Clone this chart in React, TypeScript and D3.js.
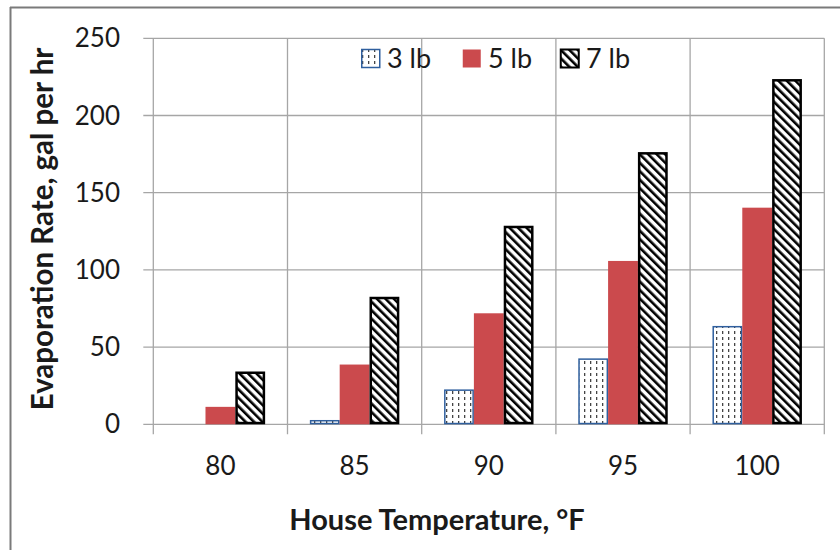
import { useEffect, useRef } from "react";
import * as d3 from "d3";

const temperatures = ["80", "85", "90", "95", "100"];
const seriesNames = ["3 lb", "5 lb", "7 lb"];
const rate3lb = [0, 2.8, 22.6, 42.7, 63.7];
const rate5lb = [11.3, 38.7, 71.9, 105.8, 140.3];
const rate7lb = [34.2, 82.6, 128.6, 176.3, 223.6];
const yTicks = [0, 50, 100, 150, 200, 250];

const W = 840;
const H = 550;
const margin = { left: 153.3, right: 824.3, top: 38.3, bottom: 424.3 };
const FONT = "Lato, 'Open Sans', sans-serif";

const App = () => {
  const svgRef = useRef<SVGSVGElement>(null);

  useEffect(() => {
    const svg = d3.select(svgRef.current);
    svg.selectAll("*").remove();

    const values = [rate3lb, rate5lb, rate7lb];
    const x0 = d3.scaleBand().domain(temperatures).range([margin.left, margin.right]).paddingInner(0).paddingOuter(0);
    const x1 = d3.scaleBand().domain(seriesNames).range([0, x0.bandwidth()]).paddingInner(0).paddingOuter(0.75);
    const y = d3.scaleLinear().domain([0, 250]).range([margin.bottom, margin.top]);

    // patterns
    const defs = svg.append("defs");
    const dots = defs.append("pattern").attr("id", "dots").attr("patternUnits", "userSpaceOnUse")
      .attr("width", 6).attr("height", 6);
    dots.append("rect").attr("width", 6).attr("height", 6).attr("fill", "#fff");
    dots.append("rect").attr("x", 2).attr("y", 1).attr("width", 1.3).attr("height", 3).attr("fill", "#444");

    const hatch = defs.append("pattern").attr("id", "hatch").attr("patternUnits", "userSpaceOnUse")
      .attr("width", 6).attr("height", 6).attr("patternTransform", "rotate(-45)");
    hatch.append("rect").attr("width", 6).attr("height", 6).attr("fill", "#fff");
    hatch.append("rect").attr("x", 0).attr("y", 0).attr("width", 2.6).attr("height", 6).attr("fill", "#000");

    const fills = ["url(#dots)", "#cb4a4d", "url(#hatch)"];
    const strokes = ["#2f5f9e", "none", "#000"];
    const strokeW = [1.5, 0, 2.5];

    // frame (top and left only visible)
    svg.append("line").attr("x1", 10).attr("x2", W).attr("y1", 7.5).attr("y2", 7.5).attr("stroke", "#7a7a7a").attr("stroke-width", 2);
    svg.append("line").attr("x1", 10.5).attr("x2", 10.5).attr("y1", 7).attr("y2", H).attr("stroke", "#7a7a7a").attr("stroke-width", 2);

    // gridlines
    const grid = svg.append("g").attr("stroke", "#a6a6a6").attr("stroke-width", 1.3);
    yTicks.forEach((t) => {
      grid.append("line").attr("x1", margin.left - 10).attr("x2", margin.right).attr("y1", y(t)).attr("y2", y(t));
    });
    const bounds = temperatures.map((t) => x0(t) as number).concat([margin.right]);
    bounds.forEach((bx) => {
      grid.append("line").attr("x1", bx).attr("x2", bx).attr("y1", margin.top).attr("y2", margin.bottom + 10);
    });

    // bars
    seriesNames.forEach((s, si) => {
      svg.append("g").selectAll("rect")
        .data(values[si].map((v, i) => ({ v, cat: temperatures[i] })).filter((d) => d.v > 0))
        .join("rect")
        .attr("x", (d) => (x0(d.cat) as number) + (x1(s) as number) + strokeW[si] / 2)
        .attr("y", (d) => y(d.v) + strokeW[si] / 2)
        .attr("width", x1.bandwidth() - strokeW[si])
        .attr("height", (d) => Math.max(0, y(0) - y(d.v) - strokeW[si]))
        .attr("fill", fills[si])
        .attr("stroke", strokes[si])
        .attr("stroke-width", strokeW[si]);
    });

    // tick labels
    svg.append("g").selectAll("text").data(yTicks).join("text")
      .attr("x", 120).attr("y", (d) => y(d)).attr("dy", "0.35em")
      .attr("text-anchor", "end").attr("font-family", FONT).attr("font-size", 26).attr("fill", "#1a1a1a")
      .text((d) => d);
    svg.append("g").selectAll("text").data(temperatures).join("text")
      .attr("x", (d) => (x0(d) as number) + x0.bandwidth() / 2).attr("y", 466).attr("dy", "0.35em")
      .attr("text-anchor", "middle").attr("font-family", FONT).attr("font-size", 26).attr("fill", "#1a1a1a")
      .text((d) => d);

    // axis titles
    svg.append("text").attr("x", 437).attr("y", 520).attr("dy", "0.35em").attr("text-anchor", "middle")
      .attr("font-family", FONT).attr("font-weight", "bold").attr("font-size", 29).attr("fill", "#1a1a1a")
      .text("House Temperature, °F");
    svg.append("text").attr("transform", "translate(53,229) rotate(-90)").attr("text-anchor", "middle")
      .attr("font-family", FONT).attr("font-weight", "bold").attr("font-size", 29.5).attr("fill", "#1a1a1a")
      .text("Evaporation Rate, gal per hr");

    // legend
    const legendX = [361, 462, 560];
    const lg = svg.append("g");
    seriesNames.forEach((s, si) => {
      lg.append("rect").attr("x", legendX[si] + 0.75).attr("y", 49.5).attr("width", 18).attr("height", 18)
        .attr("fill", fills[si]).attr("stroke", strokes[si]).attr("stroke-width", si === 0 ? 1.5 : si === 2 ? 2 : 0);
      lg.append("text").attr("x", legendX[si] + 26).attr("y", 59).attr("dy", "0.35em")
        .attr("font-family", FONT).attr("font-size", 27).attr("fill", "#1a1a1a").text(s);
    });
  }, []);

  return (
    <svg ref={svgRef} width={W} height={H}
      style={{ position: "absolute", left: 0, top: 0, background: "#fff" }} />
  );
};

export default App;
